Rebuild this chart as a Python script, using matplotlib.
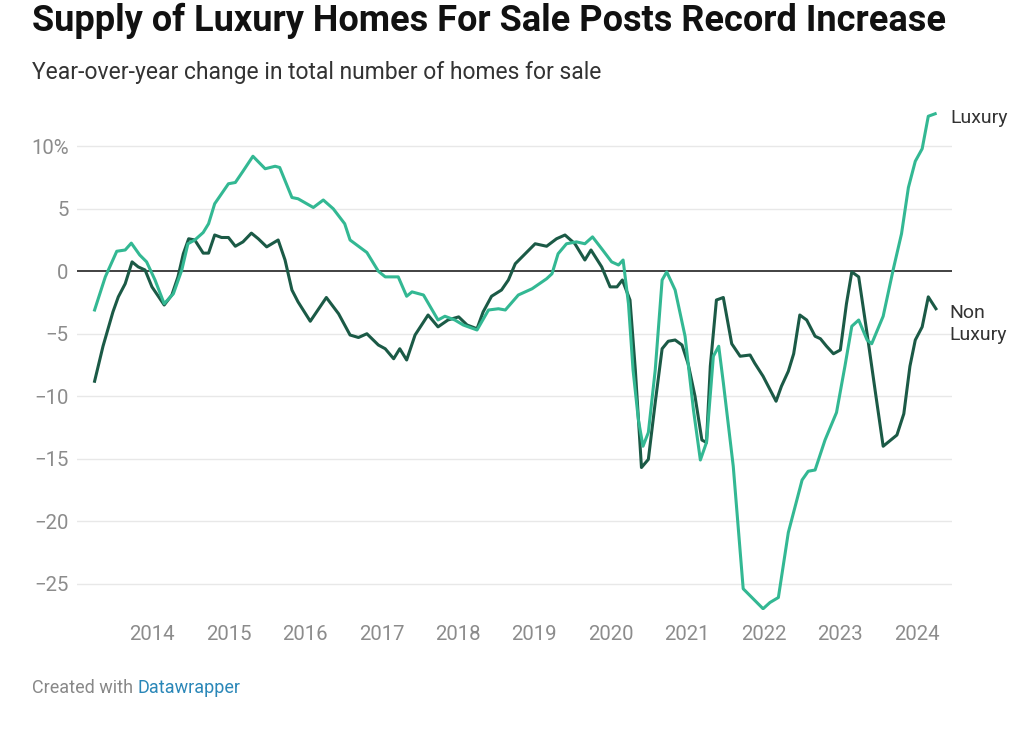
import matplotlib
matplotlib.use("Agg")
import matplotlib.pyplot as plt

plt.rcParams['font.family'] = ['Roboto', 'DejaVu Sans']

# Year-over-year change (%) (decimal year, value)
lux_t = [2013.25, 2013.39, 2013.54, 2013.65, 2013.73, 2013.84, 2013.93, 2014.04, 2014.16, 2014.28,
         2014.39, 2014.47, 2014.56, 2014.67, 2014.74, 2014.82, 2014.91, 2015.00, 2015.09, 2015.19,
         2015.32, 2015.48, 2015.61, 2015.67, 2015.83, 2015.91, 2016.11, 2016.24, 2016.37, 2016.52,
         2016.59, 2016.81, 2016.96, 2017.05, 2017.22, 2017.33, 2017.40, 2017.55, 2017.74, 2017.83,
         2017.96, 2018.07, 2018.25, 2018.40, 2018.53, 2018.62, 2018.79, 2018.97, 2019.16, 2019.23,
         2019.31, 2019.42, 2019.55, 2019.66, 2019.76, 2019.88, 2020.01, 2020.10, 2020.16, 2020.23,
         2020.29, 2020.36, 2020.42, 2020.49, 2020.58, 2020.67, 2020.73, 2020.84, 2020.97, 2021.08,
         2021.17, 2021.25, 2021.34, 2021.41, 2021.47, 2021.60, 2021.73, 2021.86, 2021.99, 2022.08,
         2022.19, 2022.32, 2022.50, 2022.58, 2022.67, 2022.80, 2022.95, 2023.06, 2023.15, 2023.24,
         2023.35, 2023.41, 2023.56, 2023.69, 2023.80, 2023.89, 2023.98, 2024.07, 2024.15, 2024.24]
lux_v = [-3.1, -0.45, 1.6, 1.7, 2.25, 1.3, 0.75, -0.7, -2.6, -1.8,
         0.1, 2.2, 2.5, 3.1, 3.8, 5.4, 6.2, 7.0, 7.1, 8.0,
         9.2, 8.2, 8.4, 8.3, 5.9, 5.8, 5.1, 5.7, 5.0, 3.8,
         2.5, 1.5, 0.0, -0.45, -0.45, -2.0, -1.65, -1.9, -3.9, -3.6,
         -3.9, -4.3, -4.7, -3.1, -3.0, -3.1, -1.9, -1.4, -0.6, -0.2,
         1.4, 2.2, 2.35, 2.2, 2.75, 1.8, 0.75, 0.5, 0.9, -2.6,
         -7.9, -11.9, -14.0, -12.9, -7.9, -0.7, -0.05, -1.5, -5.2, -11.1,
         -15.1, -13.7, -6.8, -6.0, -8.9, -15.6, -25.4, -26.2, -27.0, -26.5,
         -26.1, -20.9, -16.7, -16.0, -15.9, -13.5, -11.3, -7.6, -4.4, -3.9,
         -5.5, -5.8, -3.6, 0.1, 3.0, 6.7, 8.8, 9.8, 12.4, 12.6]

non_t = [2013.25, 2013.36, 2013.49, 2013.56, 2013.65, 2013.74, 2013.82, 2013.91, 2014.00, 2014.16,
         2014.26, 2014.34, 2014.41, 2014.48, 2014.56, 2014.67, 2014.74, 2014.82, 2014.91, 2015.00,
         2015.09, 2015.19, 2015.30, 2015.39, 2015.50, 2015.65, 2015.74, 2015.83, 2015.91, 2016.07,
         2016.28, 2016.44, 2016.59, 2016.70, 2016.81, 2016.96, 2017.05, 2017.16, 2017.24, 2017.33,
         2017.44, 2017.61, 2017.74, 2017.87, 2018.01, 2018.12, 2018.25, 2018.33, 2018.44, 2018.57,
         2018.66, 2018.75, 2018.88, 2019.01, 2019.16, 2019.29, 2019.40, 2019.53, 2019.66, 2019.74,
         2019.88, 2019.99, 2020.08, 2020.15, 2020.25, 2020.32, 2020.40, 2020.49, 2020.58, 2020.67,
         2020.75, 2020.84, 2020.93, 2021.01, 2021.10, 2021.19, 2021.25, 2021.30, 2021.38, 2021.47,
         2021.58, 2021.69, 2021.82, 2021.88, 2021.99, 2022.16, 2022.23, 2022.32, 2022.39, 2022.47,
         2022.56, 2022.67, 2022.74, 2022.82, 2022.91, 2023.00, 2023.08, 2023.15, 2023.24, 2023.35,
         2023.46, 2023.56, 2023.74, 2023.83, 2023.91, 2023.98, 2024.07, 2024.15, 2024.25]
non_v = [-8.8, -6.0, -3.25, -2.05, -1.0, 0.75, 0.35, 0.1, -1.25, -2.7,
         -1.9, -0.45, 1.4, 2.6, 2.5, 1.45, 1.45, 2.9, 2.7, 2.7,
         2.0, 2.35, 3.05, 2.6, 1.95, 2.5, 0.9, -1.5, -2.45, -4.0,
         -2.1, -3.4, -5.1, -5.3, -5.0, -5.9, -6.2, -7.0, -6.2, -7.1,
         -5.1, -3.5, -4.45, -3.9, -3.65, -4.3, -4.6, -3.25, -2.0, -1.5,
         -0.7, 0.6, 1.4, 2.2, 2.0, 2.6, 2.9, 2.2, 0.9, 1.7,
         0.35, -1.25, -1.25, -0.7, -2.3, -7.9, -15.7, -15.05, -10.5, -6.2,
         -5.6, -5.5, -5.9, -7.4, -10.0, -13.5, -13.7, -7.6, -2.3, -2.1,
         -5.8, -6.8, -6.7, -7.35, -8.4, -10.4, -9.2, -8.0, -6.6, -3.5,
         -3.9, -5.2, -5.4, -6.0, -6.6, -6.3, -2.6, -0.05, -0.45, -5.0,
         -9.75, -14.0, -13.1, -11.4, -7.6, -5.5, -4.45, -2.05, -3.0]

years = list(range(2014, 2025))
y_ticks = [10, 5, 0, -5, -10, -15, -20, -25]
y_labels = ['10%', '5', '0', '\u22125', '\u221210', '\u221215', '\u221220', '\u221225']

lux_color = '#33b893'
non_color = '#1b5a46'

fig = plt.figure(figsize=(10.24, 7.29), dpi=100)
ax = fig.add_axes([77 / 1024, 119 / 729, 875 / 1024, 505 / 729])

for yv in y_ticks:
    if yv == 0:
        ax.axhline(0, color='#333333', lw=1.3, zorder=2)
    else:
        ax.axhline(yv, color='#e8e8e8', lw=1.0, zorder=1)

ax.plot(non_t, non_v, color=non_color, lw=2.2, zorder=3)
ax.plot(lux_t, lux_v, color=lux_color, lw=2.2, zorder=4)

ax.set_xlim(2013.02, 2024.46)
ax.set_ylim(-27.1, 13.3)
ax.set_xticks(years)
ax.set_xticklabels([str(y) for y in years])
ax.set_yticks(y_ticks)
ax.set_yticklabels(y_labels)
ax.tick_params(axis='both', length=0, labelsize=14.7, labelcolor='#8c8c8c')
ax.tick_params(axis='y', pad=6)
ax.tick_params(axis='x', pad=11)
for s in ax.spines.values():
    s.set_visible(False)

# line end labels
ax.annotate('Luxury', xy=(lux_t[-1], lux_v[-1]), xytext=(11, -3), textcoords='offset points',
            va='center', ha='left', fontsize=14, color='#333333', annotation_clip=False)
ax.annotate('Non\nLuxury', xy=(non_t[-1], non_v[-1]), xytext=(10, -11), textcoords='offset points',
            va='center', ha='left', fontsize=14, color='#333333', linespacing=1.3,
            annotation_clip=False)

fig.text(32 / 1024, 1 - 21 / 729, 'Supply of Luxury Homes For Sale Posts Record Increase',
         fontsize=26, fontweight='bold', color='#111111', va='center', ha='left')
fig.text(32 / 1024, 1 - 73 / 729, 'Year-over-year change in total number of homes for sale',
         fontsize=16.5, color='#333333', va='center', ha='left')

t1 = fig.text(32 / 1024, 1 - 688 / 729, 'Created with ', fontsize=13, color='#888888',
              va='center', ha='left')
fig.canvas.draw()
bb = t1.get_window_extent()
fig.text(bb.x1 / 1024, 1 - 688 / 729, 'Datawrapper', fontsize=13, color='#2a87b8',
         va='center', ha='left')

fig.savefig('out.png', dpi=100, facecolor='white')
